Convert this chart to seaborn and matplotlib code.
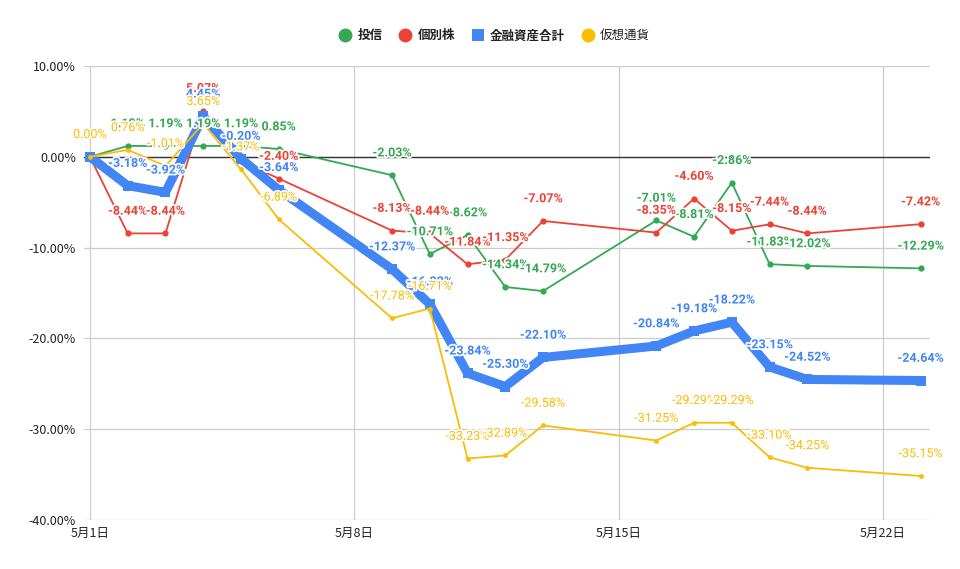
import pandas as pd
import seaborn as sns
import matplotlib.pyplot as plt
import matplotlib.patheffects as pe
from matplotlib.lines import Line2D
from matplotlib.ticker import FuncFormatter

# data (percent change since 5/1)
days = [1, 2, 3, 4, 5, 6, 9, 10, 11, 12, 13, 16, 17, 18, 19, 20, 23]
toushin = [0.00, 1.19, 1.19, 1.19, 1.19, 0.85, -2.03, -10.71, -8.62, -14.34, -14.79,
           -7.01, -8.81, -2.86, -11.83, -12.02, -12.29]
kobetsu = [0.00, -8.44, -8.44, 5.07, -0.50, -2.40, -8.13, -8.44, -11.84, -11.35, -7.07,
           -8.35, -4.60, -8.15, -7.44, -8.44, -7.42]
goukei = [0.00, -3.18, -3.92, 4.45, -0.20, -3.64, -12.37, -16.22, -23.84, -25.30, -22.10,
          -20.84, -19.18, -18.22, -23.15, -24.52, -24.64]
kasou = [0.00, 0.76, -1.01, 3.65, -1.37, -6.89, -17.78, -16.71, -33.23, -32.89, -29.58,
         -31.25, -29.29, -29.29, -33.10, -34.25, -35.15]

series_names = ["投信", "個別株", "金融資産合計", "仮想通貨"]
colors = ["#34A853", "#EA4335", "#4285F4", "#FBBC04"]
tick_days = [1, 8, 15, 22]
tick_labels = ["5月1日", "5月8日", "5月15日", "5月22日"]

dates = pd.to_datetime([f"2022-05-{d:02d}" for d in days])
df = pd.DataFrame({"date": dates, "投信": toushin, "個別株": kobetsu,
                   "金融資産合計": goukei, "仮想通貨": kasou})
long = df.melt(id_vars="date", var_name="series", value_name="value")

sns.set_theme(style="white")
plt.rcParams["font.family"] = ["Roboto", "Noto Sans CJK JP", "DejaVu Sans"]

fig = plt.figure(figsize=(9.6, 5.69), dpi=100)
ax = fig.add_axes([0.0878, 0.0861, 0.881, 0.798])

styles = {
    "投信": dict(linewidth=1.3, marker="o", markersize=4.5),
    "個別株": dict(linewidth=1.3, marker="o", markersize=4.5),
    "金融資産合計": dict(linewidth=6.5, marker="s", markersize=7),
    "仮想通貨": dict(linewidth=1.3, marker="o", markersize=3.5),
}
# labels hidden in the original (overlaps)
hidden = {("投信", 0), ("個別株", 0), ("金融資産合計", 0), ("個別株", 4)}

for i, (name, col) in enumerate(zip(series_names, colors)):
    sub = long[long["series"] == name]
    sns.lineplot(data=sub, x="date", y="value", ax=ax, color=col,
                 markeredgewidth=0, clip_on=False, zorder=3 + i,
                 legend=False, **styles[name])

for i, (name, col) in enumerate(zip(series_names, colors)):
    vals = df[name].tolist()
    for j, (d, v) in enumerate(zip(dates, vals)):
        if (name, j) in hidden:
            continue
        ax.annotate(f"{v:.2f}%", (d, v), xytext=(0, 16), textcoords="offset points",
                    ha="center", va="center", fontsize=9, color=col,
                    fontweight="normal" if name == "仮想通貨" else "bold",
                    zorder=10 + i,
                    path_effects=[pe.withStroke(linewidth=2.5, foreground="white")])

ax.set_ylim(-40, 10)
ax.set_yticks([10, 0, -10, -20, -30, -40])
ax.yaxis.set_major_formatter(FuncFormatter(lambda y, _: f"{y:.2f}%"))
ax.set_xlim(pd.Timestamp("2022-05-01") - pd.Timedelta(hours=3.6),
            pd.Timestamp("2022-05-23") + pd.Timedelta(hours=6))
ax.set_xticks(pd.to_datetime([f"2022-05-{d:02d}" for d in tick_days]))
ax.set_xticklabels(tick_labels)
for lab in ax.get_xticklabels() + ax.get_yticklabels():
    lab.set_family(["Liberation Sans Narrow", "Noto Sans CJK JP", "DejaVu Sans"])
    lab.set_fontsize(9)
    lab.set_color("#222222")
ax.tick_params(axis="both", length=0)
ax.tick_params(axis="y", pad=6)
ax.tick_params(axis="x", pad=5)
ax.set_xlabel("")
ax.set_ylabel("")
ax.grid(True, color="#cccccc", linewidth=0.9)
ax.axhline(0, color="#333333", linewidth=1, zorder=2)
for s in ax.spines.values():
    s.set_visible(False)

handles = []
for name, col in zip(series_names, colors):
    m = "s" if name == "金融資産合計" else "o"
    ms = 8 if m == "s" else 10
    handles.append(Line2D([], [], linestyle="", marker=m, markersize=ms,
                          color=col, markeredgewidth=0, label=name))
leg = fig.legend(handles=handles, loc="center", bbox_to_anchor=(0.515, 0.937),
                 ncol=4, frameon=False, fontsize=9, handlelength=1.0,
                 handletextpad=0.5, columnspacing=1.3)
for t, name in zip(leg.get_texts(), series_names):
    t.set_color("#222222")
    if name != "仮想通貨":
        t.set_fontweight("bold")

fig.savefig("out.png", dpi=100)
